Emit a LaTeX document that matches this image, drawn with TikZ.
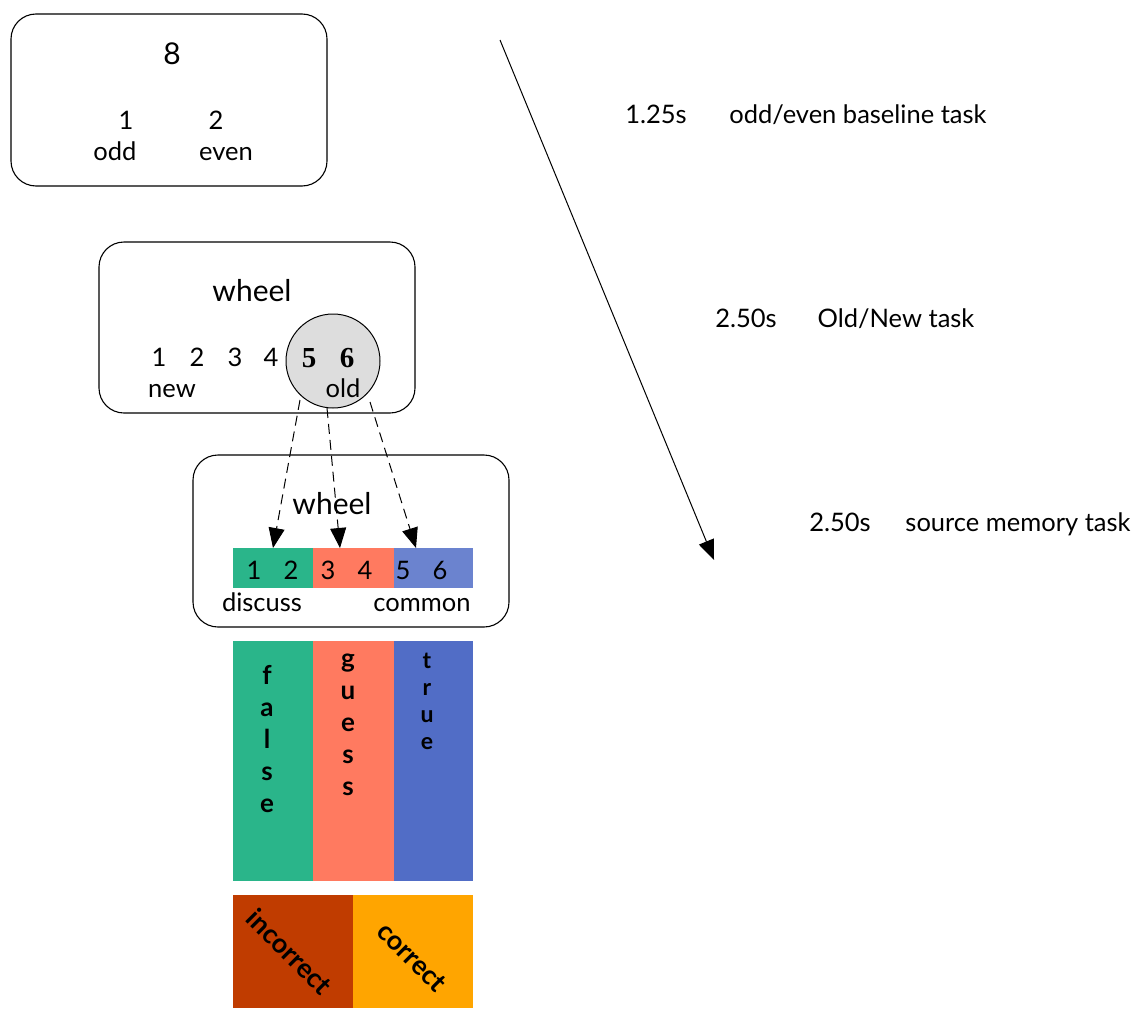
\documentclass[tikz,border=0pt]{standalone}
\usepackage{fontspec}
\setmainfont{Lato}
\newfontfamily\serifbold{Liberation Serif}
\usetikzlibrary{arrows.meta}
\definecolor{cgreen}{HTML}{2AB58A}
\definecolor{csalmon}{HTML}{FF7A60}
\definecolor{cblueL}{HTML}{6B83CF}
\definecolor{cblue}{HTML}{516DC6}
\definecolor{cdark}{HTML}{C03C00}
\definecolor{corange}{HTML}{FFA500}
\definecolor{cgray}{HTML}{DDDDDD}
\tikzset{
  panel/.style={draw, rounded corners=25pt, line width=1.1pt},
  lbl/.style={font=\fontsize{25.5}{28}\selectfont, inner sep=0pt, anchor=base},
  big/.style={font=\fontsize{30}{32}\selectfont, inner sep=0pt, anchor=base},
  bnum/.style={font=\fontsize{29}{30}\selectfont\serifbold\bfseries, inner sep=0pt, anchor=base},
  vlbl/.style={font=\fontsize{26}{32}\selectfont\bfseries, inner sep=0pt, align=center, anchor=north},
  dlbl/.style={font=\fontsize{27}{30}\selectfont\bfseries, inner sep=0pt, rotate=-45},
  dasharrow/.style={line width=1pt, dash pattern=on 10pt off 6pt, -{Triangle[length=20pt,width=16pt]}},
  timearrow/.style={line width=1pt, -{Triangle[length=20pt,width=16pt]}}
}
\begin{document}
\begin{tikzpicture}[x=1pt,y=-1pt]
\useasboundingbox (0,0) rectangle (1139,1009);
% panel 1
\draw[panel] (11,14) rectangle (327,186);
\node[big] (n8) at (172,64) {8};
\node[lbl] (n1a) at (126,129) {1};
\node[lbl] (n2a) at (216,129) {2};
\node[lbl] (odd) at (115,160) {odd};
\node[lbl] (even) at (226,160) {even};
% panel 2
\draw[panel] (99,242) rectangle (415,413);
\node[big] (w1) at (252,301) {wheel};
\draw[fill=cgray, line width=1pt] (333,361) circle (47);
\node[lbl] (b1) at (159,366) {1};
\node[lbl] (b2) at (197,366) {2};
\node[lbl] (b3) at (235,366) {3};
\node[lbl] (b4) at (271,366) {4};
\node[bnum] (b5) at (309,367) {5};
\node[bnum] (b6) at (347,367) {6};
\node[lbl] (new) at (172,397) {new};
\node[lbl] (old) at (343,397) {old};
% panel 3
\draw[panel] (193,455) rectangle (509,627);
\node[big] (w2) at (332,514) {wheel};
\fill[cgreen] (233,548) rectangle (313,588);
\fill[csalmon] (313,548) rectangle (394,588);
\fill[cblueL] (394,548) rectangle (473,588);
\coordinate (t1) at (273,548);
\coordinate (t2) at (340,548);
\coordinate (t3) at (416,548);
\node[lbl] (c1) at (254,579) {1};
\node[lbl] (c2) at (291,579) {2};
\node[lbl] (c3) at (328,579) {3};
\node[lbl] (c4) at (365,579) {4};
\node[lbl] (c5) at (403,579) {5};
\node[lbl] (c6) at (440,579) {6};
\node[lbl] (disc) at (262,611) {discuss};
\node[lbl] (comm) at (422,611) {common};
% dashed arrows
\coordinate (s1) at (300,400);
\coordinate (s2) at (327,408);
\coordinate (s3) at (370,402);
\draw[dasharrow] (s1) -- (t1);
\draw[dasharrow] (s2) -- (t2);
\draw[dasharrow] (s3) -- (t3);
% tall bars
\fill[cgreen] (233,641) rectangle (313,881);
\fill[csalmon] (313,641) rectangle (394,881);
\fill[cblue] (394,641) rectangle (473,881);
\node[vlbl] (false) at (267,665) {f\\a\\l\\s\\e};
\node[vlbl] (guess) at (348,654) {g\\u\\e\\s\\s};
\node[vlbl, font=\fontsize{23}{27}\selectfont\bfseries] (true) at (427,653) {t\\r\\u\\e};
% bottom
\fill[cdark] (233,895) rectangle (353,1008);
\fill[corange] (353,895) rectangle (473,1008);
\node[dlbl] (inc) at (290,952) {incorrect};
\node[dlbl] (cor) at (412,957) {correct};
% timeline
\coordinate (ta) at (500,40);
\coordinate (tb) at (714,560);
\draw[timearrow] (ta) -- (tb);
\node[lbl] (t125) at (656,123) {1.25s};
\node[lbl] (l1) at (858,123) {odd/even baseline task};
\node[lbl] (t250a) at (746,327) {2.50s};
\node[lbl] (l2) at (896,327) {Old/New task};
\node[lbl] (t250b) at (840,531) {2.50s};
\node[lbl] (l3) at (1018,531) {source memory task};
\end{tikzpicture}
\end{document}
